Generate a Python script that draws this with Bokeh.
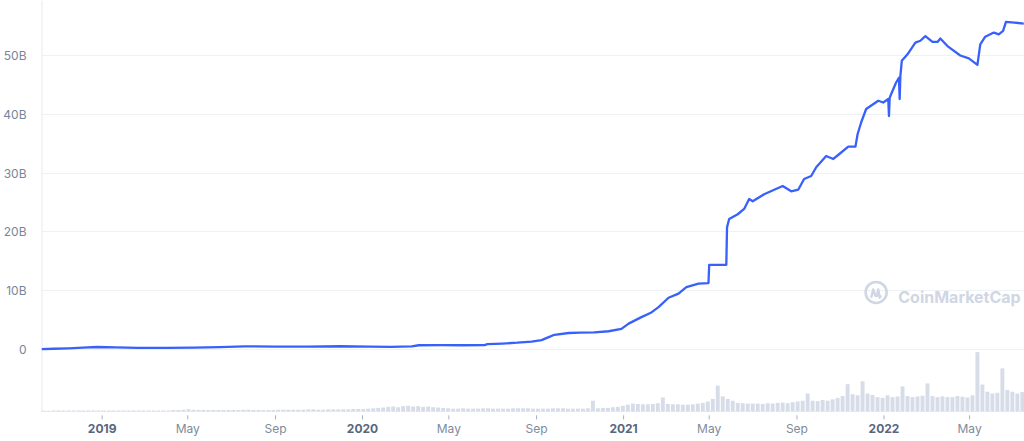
import pandas as pd
from bokeh.plotting import figure
from bokeh.models import Range1d, FixedTicker, Label, Span
from bokeh.embed import file_html
from bokeh.resources import INLINE
from bokeh.core.properties import value

# ---------------- data ----------------
cap_dates = ["2018-10-08", "2018-10-25", "2018-11-15", "2018-12-05", "2018-12-25",
             "2019-01-20", "2019-02-20", "2019-04-01", "2019-05-10", "2019-06-15",
             "2019-07-20", "2019-09-01", "2019-10-15", "2019-12-01", "2020-01-10",
             "2020-02-10", "2020-03-10", "2020-03-20", "2020-04-20", "2020-05-20",
             "2020-06-20", "2020-06-24", "2020-07-15", "2020-08-05", "2020-08-25",
             "2020-09-08", "2020-09-18", "2020-09-26", "2020-10-16", "2020-11-01",
             "2020-11-21", "2020-12-11", "2020-12-29", "2021-01-08", "2021-01-26",
             "2021-02-09", "2021-02-19", "2021-03-05", "2021-03-19", "2021-03-30",
             "2021-04-16", "2021-04-30", "2021-05-01", "2021-05-25", "2021-05-26",
             "2021-05-29", "2021-06-10", "2021-06-19", "2021-06-26", "2021-07-01",
             "2021-07-17", "2021-08-12", "2021-08-24", "2021-09-03", "2021-09-11",
             "2021-09-21", "2021-09-28", "2021-10-12", "2021-10-22", "2021-10-30",
             "2021-11-12", "2021-11-22", "2021-11-25", "2021-11-30", "2021-12-07",
             "2021-12-24", "2021-12-31", "2022-01-07", "2022-01-08", "2022-01-09",
             "2022-01-11", "2022-01-18", "2022-01-22", "2022-01-23", "2022-01-24",
             "2022-01-26", "2022-02-03", "2022-02-14", "2022-02-21", "2022-02-28",
             "2022-03-10", "2022-03-17", "2022-03-21", "2022-03-31", "2022-04-18",
             "2022-04-30", "2022-05-12", "2022-05-16", "2022-05-23", "2022-06-04",
             "2022-06-11", "2022-06-17", "2022-06-21", "2022-07-03", "2022-07-16"]
cap_values = [0.05, 0.12, 0.2, 0.3, 0.42,
              0.36, 0.28, 0.27, 0.3, 0.4,
              0.52, 0.5, 0.47, 0.55, 0.5,
              0.45, 0.52, 0.72, 0.74, 0.72,
              0.75, 0.9, 1.0, 1.15, 1.35,
              1.6, 2.1, 2.5, 2.8, 2.85,
              2.9, 3.1, 3.5, 4.4, 5.5,
              6.3, 7.2, 8.8, 9.5, 10.6,
              11.2, 11.3, 14.4, 14.4, 20.8,
              22.2, 23.0, 23.9, 25.6, 25.2,
              26.4, 27.8, 26.9, 27.2, 29.0,
              29.5, 31.0, 32.9, 32.4, 33.2,
              34.5, 34.5, 36.6, 38.6, 40.9,
              42.3, 42.0, 42.6, 39.7, 42.8,
              43.4, 45.4, 46.2, 42.6, 46.5,
              49.1, 50.2, 52.2, 52.5, 53.3,
              52.3, 52.3, 52.9, 51.6, 50.0,
              49.5, 48.4, 51.9, 53.2, 53.9,
              53.6, 54.2, 55.7, 55.6, 55.4]  # billions USD

vol_start = "2018-10-11"   # weekly volume, billions USD
vol_values = (
    [0.2, 0.2, 0.3, 0.3, 0.3, 0.3, 0.3, 0.3, 0.3, 0.3, 0.3, 0.3, 0.3] +
    [0.3, 0.3, 0.3, 0.3, 0.3, 0.3, 0.3, 0.3, 0.3, 0.3, 0.3, 0.3, 0.3,
     0.4, 0.4, 0.5, 0.6, 0.5, 0.4, 0.4, 0.4, 0.4, 0.4, 0.4, 0.4, 0.4,
     0.4, 0.5, 0.5, 0.4, 0.4, 0.4, 0.4, 0.4, 0.5, 0.5, 0.5, 0.5, 0.5,
     0.5, 0.6, 0.6, 0.5, 0.5, 0.6, 0.6, 0.6, 0.6, 0.6, 0.7, 0.7, 0.7] +
    [0.8, 0.9, 1.0, 1.1, 1.3, 1.4, 1.2, 1.5, 1.6, 1.4, 1.5, 1.3, 1.4,
     1.2, 1.1, 1.0, 0.9, 0.8, 0.8, 0.9, 0.8, 0.8, 0.8, 0.9, 0.9, 0.8,
     0.8, 0.8, 0.8, 0.9, 0.9, 0.9, 0.9, 0.8, 0.8, 0.8, 0.8, 0.9, 0.9,
     0.9, 0.8, 0.8, 0.8, 0.8, 0.9, 3.0, 0.9, 1.0, 1.0, 1.2, 1.3, 1.6] +
    [1.9, 2.2, 2.1, 2.0, 2.0, 2.1, 2.3, 3.9, 2.1, 2.0, 2.0, 1.9, 1.9,
     2.0, 2.2, 2.4, 2.8, 3.5, 7.2, 4.2, 3.5, 3.0, 2.4, 2.3, 2.2, 2.2,
     2.2, 2.1, 2.3, 2.2, 2.4, 2.5, 2.3, 2.6, 2.8, 3.0, 5.0, 3.0, 2.9,
     3.2, 3.0, 3.4, 3.8, 4.3, 7.6, 4.8, 4.5, 8.4, 5.0, 4.6, 4.0, 3.8] +
    [4.5, 4.0, 4.2, 7.0, 4.3, 4.0, 4.2, 4.4, 7.8, 4.3, 4.0, 4.2, 4.0,
     4.0, 4.3, 4.1, 3.9, 4.5, 16.5, 7.5, 5.5, 5.0, 5.2, 12.0, 6.0, 5.5,
     5.0, 5.4]
)

y_ticks = [0, 10, 20, 30, 40, 50]
y_labels = ["0", "10B", "20B", "30B", "40B", "50B"]

month_ticks = ["2019-05-01", "2019-09-01", "2020-05-01", "2020-09-01",
               "2021-05-01", "2021-09-01", "2022-05-01"]
month_labels = ["May", "Sep", "May", "Sep", "May", "Sep", "May"]
year_ticks = ["2019-01-01", "2020-01-01", "2021-01-01", "2022-01-01"]
year_labels = ["2019", "2020", "2021", "2022"]

# ---------------- layout constants ----------------
FONT = "Inter"
BLUE = "#3861fb"
X0, X1 = pd.Timestamp("2018-10-08"), pd.Timestamp("2022-07-17")
Y_BOTTOM, Y_TOP = -15.65, 59.35        # frame covers the label strip too
BASE = -10.54                          # baseline of the chart area (dotted line)
TICK_A, TICK_B = -11.2, -11.9
LABEL_Y = -13.44

p = figure(width=1024, height=441, x_axis_type="datetime",
           x_range=Range1d(X0, X1), y_range=Range1d(Y_BOTTOM, Y_TOP),
           output_backend="svg", toolbar_location=None,
           min_border_left=41, min_border_right=0, min_border_top=0,
           min_border_bottom=0)
p.outline_line_color = None
p.background_fill_color = "white"
p.border_fill_color = "white"
# volume scale: 0 sits on the baseline
p.extra_y_ranges = {"vol": Range1d(-8.33, 114.2)}

# grid
p.xgrid.grid_line_color = None
p.ygrid.ticker = FixedTicker(ticks=y_ticks)
p.ygrid.grid_line_color = "#eff2f5"
p.ygrid.grid_line_width = 1

# y axis (labels only)
yax = p.yaxis[0]
yax.ticker = FixedTicker(ticks=y_ticks)
yax.major_label_overrides = {t: l for t, l in zip(y_ticks, y_labels)}
yax.axis_line_color = None
yax.major_tick_line_color = None
yax.minor_tick_line_color = None
yax.major_label_standoff = 9
yax.major_label_text_font = FONT
yax.major_label_text_font_size = "12px"
yax.major_label_text_color = "#7a8599"

p.xaxis.visible = False

# left vertical rule and dotted baseline
p.segment(x0=[X0], y0=[BASE], x1=[X0], y1=[Y_TOP], line_color="#e6e9ef", line_width=2)
p.add_layout(Span(location=BASE, dimension="width", line_color="#cfd6e4",
                  line_dash="1 2", line_width=1))

# volume bars
vol_dates = pd.date_range(vol_start, periods=len(vol_values), freq="7D")
p.vbar(x=vol_dates, top=vol_values, bottom=0, width=5.5 * 86400000,
       y_range_name="vol", fill_color="#cfd6e4", line_color=None, fill_alpha=0.85)

# market cap line
p.line(x=pd.to_datetime(cap_dates), y=cap_values, line_color=BLUE, line_width=2.3,
       line_join="round")

# x ticks and labels
all_ticks = pd.to_datetime(month_ticks + year_ticks)
p.segment(x0=all_ticks, y0=[TICK_A] * len(all_ticks), x1=all_ticks,
          y1=[TICK_B] * len(all_ticks), line_color="#a6b0c3", line_width=1)
p.text(x=pd.to_datetime(month_ticks), y=[LABEL_Y] * len(month_ticks), text=month_labels,
       text_align="center", text_baseline="middle", text_font=value(FONT),
       text_font_size="12px", text_color="#808a9d")
p.text(x=pd.to_datetime(year_ticks), y=[LABEL_Y] * len(year_ticks), text=year_labels,
       text_align="center", text_baseline="middle", text_font=value(FONT),
       text_font_size="12px", text_font_style="bold", text_color="#58667e")

# watermark
WM = "#cfd6e4"
logo_x = pd.Timestamp("2021-12-21")
p.scatter(x=[logo_x], y=[9.7], marker="circle", size=21, fill_color=None,
          line_color=WM, line_width=2.6)
wave_dx = [-7, -4, -1, 1, 3, 5, 7]
wave_dy = [-0.9, 0.5, -0.6, -0.6, 0.5, -0.9, -0.5]
p.line(x=[logo_x + pd.Timedelta(days=d) for d in wave_dx], y=[9.7 + d for d in wave_dy],
       line_color=WM, line_width=2.4, line_join="round")
p.add_layout(Label(x=pd.Timestamp("2022-01-21"), y=8.85, text="CoinMarketCap",
                   text_font=FONT, text_font_size="16px", text_font_style="bold",
                   text_color=WM, text_baseline="middle", text_align="left"))

open("out.html", "w").write(file_html(p, INLINE))
